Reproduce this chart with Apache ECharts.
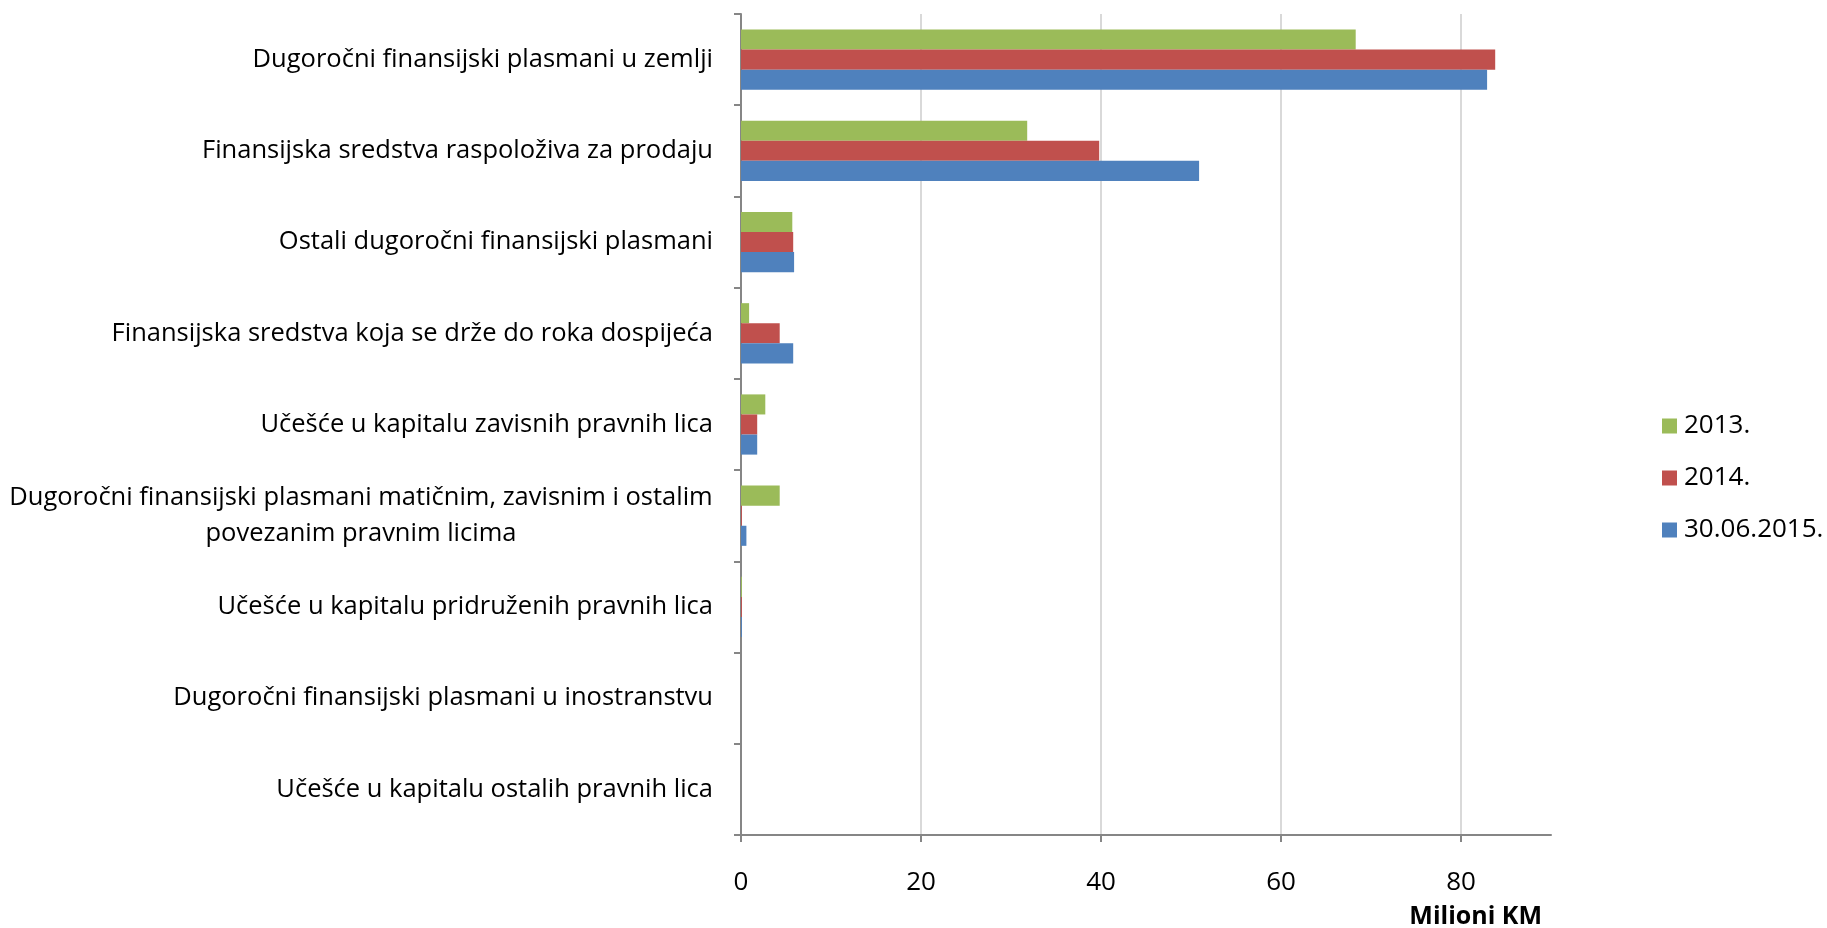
<!DOCTYPE html>
<html>
<head>
<meta charset="utf-8">
<script src="https://cdn.jsdelivr.net/npm/echarts@6/dist/echarts.min.js"></script>
<style>html,body{margin:0;padding:0;background:#fff}#c{width:1827px;height:928px}</style>
</head>
<body>
<div id="c"></div>
<script>
var categories = [
  'Dugoročni finansijski plasmani u zemlji',
  'Finansijska sredstva raspoloživa za prodaju',
  'Ostali dugoročni finansijski plasmani',
  'Finansijska sredstva koja se drže do roka dospijeća',
  'Učešće u kapitalu zavisnih pravnih lica',
  'Dugoročni finansijski plasmani matičnim, zavisnim i ostalim\npovezanim pravnim licima',
  'Učešće u kapitalu pridruženih pravnih lica',
  'Dugoročni finansijski plasmani u inostranstvu',
  'Učešće u kapitalu ostalih pravnih lica'
];
var seriesNames = ['2013.', '2014.', '30.06.2015.'];
var v2013 = [68.3, 31.8, 5.7, 0.9, 2.7, 4.3, 0.1, 0, 0];
var v2014 = [83.8, 39.8, 5.8, 4.3, 1.8, 0.1, 0.1, 0, 0];
var v2015 = [82.9, 50.9, 5.9, 5.8, 1.8, 0.6, 0.1, 0, 0];
var xTicks = [0, 20, 40, 60, 80];
var axisTitle = 'Milioni KM';

var FONT = '"Open Sans", sans-serif';
var catSize = 25.5;
var ctx = document.createElement('canvas').getContext('2d');
ctx.font = catSize + 'px "Open Sans"';

var chart = echarts.init(document.getElementById('c'));
var colors = ['#9BBB59', '#C0504D', '#4F81BD'];
var vals = [v2013, v2014, v2015];

var option = {
  animation: false,
  backgroundColor: '#fff',
  grid: {left: 741, right: 276, top: 14, bottom: 93, containLabel: false},
  title: {
    text: axisTitle, right: 285, top: 904, padding: 0,
    textStyle: {fontFamily: FONT, fontSize: 25, fontWeight: 'bold', color: '#000'}
  },
  legend: {
    orient: 'vertical', left: 1657, top: 408, itemGap: 26,
    itemWidth: 15, itemHeight: 15, icon: 'rect',
    data: seriesNames,
    textStyle: {fontFamily: FONT, fontSize: 26, color: '#000', padding: [0, 0, 0, 2]}
  },
  xAxis: {
    type: 'value', min: 0, max: 90, interval: 20,
    axisLine: {show: true, lineStyle: {color: '#868686', width: 2}},
    axisTick: {show: true, length: 7, lineStyle: {color: '#868686', width: 2},
      customValues: xTicks},
    axisLabel: {fontFamily: FONT, fontSize: 26, color: '#000', margin: 35,
      customValues: xTicks},
    splitLine: {show: true, lineStyle: {color: '#d9d9d9', width: 2}}
  },
  yAxis: {
    type: 'category', inverse: true, data: categories,
    axisLine: {show: true, lineStyle: {color: '#868686', width: 2}},
    axisTick: {show: true, length: 7, lineStyle: {color: '#868686', width: 2}},
    axisLabel: {
      fontFamily: FONT, fontSize: catSize, color: '#000', margin: 28, lineHeight: 36,
      formatter: function (v) {
        if (v.indexOf('\n') < 0) return v;
        var lines = v.split('\n');
        return lines.map(function (l) { return '{c|' + l + '}'; }).join('\n');
      },
      rich: {
        c: {fontFamily: FONT, fontSize: catSize, color: '#000', lineHeight: 36, align: 'center',
          width: Math.ceil(ctx.measureText(categories[5].split('\n')[0]).width)}
      }
    }
  },
  series: seriesNames.map(function (n, i) {
    return {
      name: n, type: 'bar', data: vals[i], barGap: '0%', barCategoryGap: '34%',
      itemStyle: {color: colors[i]}
    };
  })
};
chart.setOption(option);
</script>
</body>
</html>
